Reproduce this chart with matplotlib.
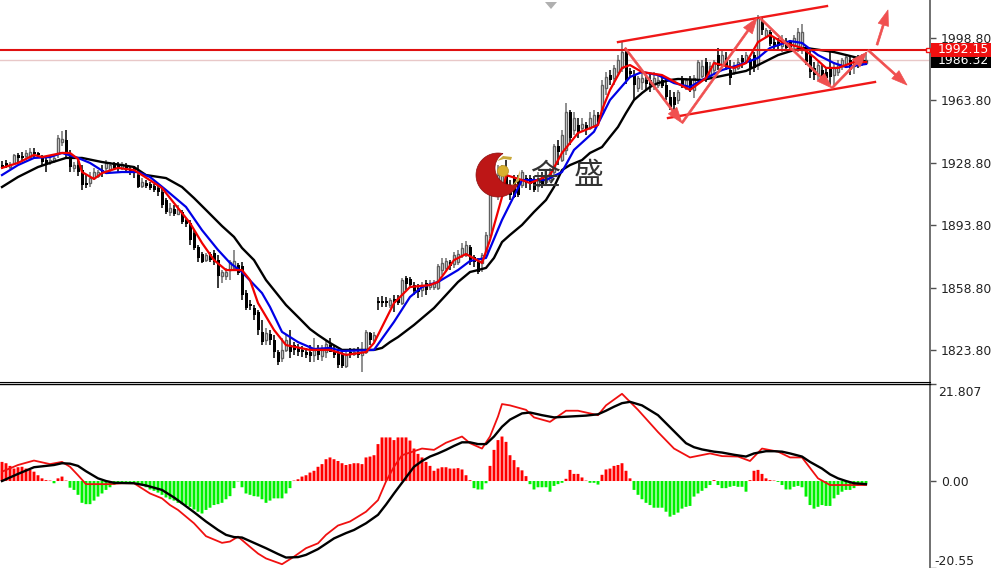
import numpy as np
import matplotlib
matplotlib.use("Agg")
import matplotlib.pyplot as plt
from matplotlib.patches import Circle, FancyArrowPatch, Polygon, Rectangle

# candles, one value per bar
opens = [1927.5,1928.7,1926.4,1928.7,1933.2,1932.6,1932.6,1932,1934.8,1934.3,
 1932,1930.3,1929.2,1929.8,1934.3,1940.4,1941.6,1933.2,1925.9,1927.5,
 1924.7,1917.4,1917.4,1920.2,1921.4,1924.7,1925.9,1924.7,1927.5,1927.5,
 1925.9,1927,1924.7,1925.9,1921.9,1915.8,1917.4,1916.9,1915.8,1914.6,
 1912.4,1907.9,1901.2,1902.8,1900,1901.2,1896.7,1895,1889.4,1881.5,
 1877.6,1874.2,1877.6,1878.2,1874.2,1865.3,1865.3,1868.6,1869.8,1871.4,
 1870.9,1855.7,1849.6,1847.3,1845.1,1833.9,1829.4,1832.7,1829.4,1822.6,
 1819.3,1823.8,1826.5,1826.5,1824.9,1823.8,1822.6,1822.6,1821,1823.8,
 1820.4,1822.6,1826.5,1822.6,1822,1821.5,1814.8,1822.6,1821.5,1822.6,
 1821,1822.6,1833.3,1829.4,1851.2,1851.2,1851.2,1849,1852.4,1852.9,
 1850.1,1864.1,1863.6,1860.2,1858.5,1857.4,1861.3,1859.1,1859.1,1858.5,
 1868.6,1869.8,1873.1,1872,1873.1,1877,1877,1881.5,1875.9,1873.1,
 1872.6,1877,1888.3,1913.5,1914.6,1913.5,1921.9,1916.3,1920.2,1919.1,
 1916.3,1920.2,1920.2,1919.1,1915.8,1920.2,1918,1919.1,1923.6,1938.2,
 1930.3,1936,1957.3,1947.2,1950,1948.3,1950,1948.3,1950,1955.6,
 1956.7,1970.7,1978,1976.3,1979.7,1982,1990.9,1980.3,1978,1970.7,
 1974.1,1975.2,1975.2,1973,1972.4,1975.2,1972.4,1965.7,1965.7,1964,
 1976.3,1970.7,1975.2,1969.6,1975.2,1977.5,1985.3,1977.5,1980.8,1989.2,
 1983.6,1987.6,1980.8,1979.7,1982,1987.6,1985.3,1986.4,1989.2,1983.6,
 2007.8,2000,2002.1,1996.5,1996.5,1994.3,1996.5,1996.5,1994.3,1993.2,
 1992,1993.2,1989.2,1982,1978,1980.8,1979.7,1982,1978,1979.7,
 1983,1984.2,1986.4,1983,1986.4,1984.8,1984.8]
closes = [1926.4,1927,1928.1,1933.2,1931.5,1931.5,1934.3,1934.8,1933.7,1933.2,
 1929.2,1928.1,1930.3,1931.5,1942.7,1942.1,1934.8,1926.4,1927.5,1923.6,
 1916.3,1916.3,1920.2,1923.6,1923.6,1923.6,1928.7,1927.5,1925.9,1925.3,
 1928.1,1925.9,1923.6,1923,1915.2,1918,1915.8,1914.6,1913.5,1912.4,
 1905,1901.2,1903.4,1900,1902.8,1895.6,1894.4,1885.5,1881,1875.4,
 1873.1,1877,1874.2,1873.1,1865.3,1867.5,1867.5,1873.1,1873.7,1867,
 1854.6,1847.3,1848.4,1843.4,1835,1828.2,1833.3,1829.4,1822.6,1817,
 1823.8,1829.4,1822.6,1823.8,1822.6,1822.6,1821,1820.4,1823.8,1821,
 1823.8,1827.1,1822.6,1821,1815.3,1814.8,1821,1821,1822.6,1821,
 1822.6,1833.9,1829.4,1832.2,1850.1,1850.1,1850.1,1851.8,1850.1,1850.1,
 1863,1860.8,1860.2,1856.9,1856.3,1859.1,1857.4,1861.3,1861.3,1870.9,
 1872.6,1873.7,1870.9,1877,1877.6,1881,1882.7,1873.1,1873.1,1867.5,
 1877,1888.3,1913.5,1918,1921.9,1921.9,1916.3,1910.7,1909.6,1910.7,
 1923.6,1917.4,1916.9,1913.5,1919.1,1916.9,1921.4,1923.6,1938.2,1934.8,
 1944.4,1957.3,1942.7,1953.9,1945.5,1950.5,1947.2,1953.9,1955.6,1951.7,
 1972.4,1976.9,1975.2,1982,1986.4,1990.9,1975.2,1978.6,1972.4,1976.3,
 1976.3,1973,1972.4,1976.3,1975.2,1971.9,1965.7,1960.1,1961.2,1968.5,
 1972.4,1975.2,1970.7,1976.3,1985.3,1983,1976.3,1983,1985.3,1983,
 1989.2,1983,1976.3,1983,1985.3,1985.3,1989.2,1982,1982,2010,
 2003.3,2003.3,1995.4,1994.3,1994.3,1997.7,1993.2,1993.2,1998.8,2002.1,
 2002.1,1985.3,1979.7,1978,1983.6,1977.5,1976.3,1976.9,1982,1983.6,
 1986.4,1988.1,1980.8,1986.4,1984.2,1987.6,1986.4]
highs = [1929.8,1930.3,1929.2,1933.7,1934.3,1934.8,1936,1937.1,1937.1,1934.8,
 1933.2,1932,1932,1933.7,1944.4,1946.6,1947.2,1936,1929.2,1931.5,
 1927.5,1921.9,1923.6,1925.9,1924.7,1927.5,1930.3,1929.2,1929.2,1929.2,
 1929.2,1928.7,1926.4,1927,1927.5,1920.2,1919.1,1918,1916.9,1915.8,
 1914.6,1909,1906.2,1905,1905,1902.3,1897.8,1896.7,1891,1882.7,
 1878.7,1878.2,1878.7,1879.9,1877,1868.6,1869.8,1874.2,1879.9,1872.6,
 1873.1,1857.4,1851.8,1849,1846.2,1840.6,1836.1,1835,1832.2,1823.8,
 1830.5,1832.2,1835,1828.2,1827.1,1826,1824.9,1826.5,1830.5,1826.5,
 1826.5,1829.4,1830.5,1826.5,1823.8,1822.6,1823.8,1824.9,1824.9,1825.5,
 1828.2,1835,1833.9,1833.9,1853.5,1854,1853.5,1852.9,1854.6,1854.6,
 1864.1,1865.3,1864.7,1861.9,1860.8,1861.9,1863,1863,1863,1872,
 1875.4,1875.4,1874.2,1878.7,1879.9,1883.8,1885,1882.7,1877,1875.4,
 1878.2,1890,1916.3,1921.9,1927.5,1927.5,1930.3,1919.1,1921.9,1921.9,
 1924.7,1921.9,1921.9,1921.4,1923.6,1923.6,1924.7,1925.9,1939.3,1941.6,
 1947.2,1962.3,1958.4,1957.3,1953.9,1953.9,1951.7,1957.3,1958.4,1957.3,
 1975.2,1979.7,1980.8,1983.6,1989.2,1996.5,1993.2,1982,1980.8,1977.5,
 1979.7,1977.5,1978.6,1979.7,1978,1977.5,1976.3,1969.6,1968.5,1969.6,
 1977.5,1976.3,1977.5,1978,1986.4,1986.4,1987.6,1985.3,1986.4,1993.2,
 1992,1990.9,1986.4,1985.3,1987.6,1989.2,1990.9,1987.6,1990.9,2011.7,
 2010,2004.4,2003.3,1998.8,1998.8,2000.5,1998.8,1997.7,2000.5,2004.4,
 2006.6,1994.3,1992,1985.3,1985.3,1983.6,1982,1992,1985.3,1986.4,
 1987.6,1989.8,1988.7,1988.7,1989.2,1989.8,1990.9]
lows = [1925.3,1925.9,1925.3,1927.5,1929.2,1930.3,1930.3,1930.3,1931.5,1931.5,
 1927.5,1923.6,1927.5,1928.7,1931.5,1938.2,1931.5,1923.6,1923.6,1921.4,
 1913.5,1914.6,1915.2,1919.1,1920.2,1920.8,1923.6,1923.6,1924.7,1923.6,
 1924.7,1923.6,1921.9,1920.2,1914.6,1914.6,1914.6,1913.5,1912.4,1910.1,
 1903.4,1900,1898.9,1898.9,1899.5,1894.4,1892.8,1882.7,1879.9,1873.1,
 1872.6,1873.1,1873.1,1871.4,1858.5,1861.3,1863,1863,1868.6,1865.8,
 1851.8,1846.2,1846.2,1840.6,1832.2,1826.5,1826.5,1826.5,1819.3,1815.3,
 1817,1822.6,1819.3,1821,1820.4,1819.9,1819.3,1817,1817,1818.1,
 1817.6,1819.3,1822.6,1819.3,1813.6,1813.6,1813.6,1819.3,1820.4,1819.3,
 1811.4,1821.5,1826.5,1828.2,1846.2,1847.9,1847.9,1847.3,1845.1,1849,
 1849,1857.4,1858.5,1854.6,1852.9,1853.5,1854.6,1857.4,1857.4,1857.4,
 1865.8,1867.5,1868.6,1869.8,1871.4,1875.4,1875.9,1871.4,1870.3,1866.4,
 1867.5,1875.4,1886.6,1910.7,1907.9,1910.7,1913.5,1907.9,1909,1909.6,
 1914.6,1914.6,1913.5,1912.4,1912.4,1914.6,1916.3,1918,1921.9,1927.5,
 1929.2,1933.2,1938.8,1944.4,1942.7,1946.2,1944.4,1947.2,1948.3,1950,
 1955,1966.8,1972.4,1972.4,1978,1979.7,1973,1976.3,1964,1968.5,
 1969.6,1969.6,1968.5,1969.6,1970.7,1970.7,1964,1958.4,1953.9,1961.8,
 1970.7,1969.6,1968.5,1965.1,1974.1,1976.3,1974.1,1976.3,1978.6,1980.8,
 1982,1980.8,1972.4,1978,1980.8,1982,1984.2,1978,1979.7,1980.8,
 2000.5,1998.8,1994.3,1992,1992,1990.9,1992,1990.9,1992,1990.9,
 1989.8,1983.6,1976.3,1975.2,1975.2,1974.1,1974.1,1972.4,1972.4,1977.5,
 1980.8,1982,1978,1978.6,1982,1983,1983.6]

# moving averages
fast_x = [0,4,8,10,15,17,19,20,23,25,29,33,35,40,44,47,50,53,56,60,62,64,68,71,77,82,86,91,93,98,102,107,109,
 113,116,120,122,125,126,130,132,137,140,144,149,150,152,155,157,160,165,172,176,178,183,186,189,192,195,200,203,206,209,213,216]
fast_y = [1925.9,1928.7,1933.2,1932,1934.3,1934.3,1930.9,1923.6,1919.7,1923,1925.9,1924.7,1921.9,1914.6,1903.4,1895,
 1883.8,1874.2,1868.6,1868.6,1863,1850.1,1835,1826.5,1823.8,1823.8,1821,1822.6,1827.7,1850.1,1859.1,1860.2,1861.9,
 1874.2,1877.6,1872.6,1885.5,1909.6,1921.9,1919.1,1917.4,1921.9,1934.3,1945.5,1950,1958.4,1969.6,1982,1983.6,1979.7,
 1978,1969.6,1976.3,1984.7,1982,1984.7,1996.5,2000.5,1996.5,1993.2,1988.1,1982,1982,1985.3,1985.3]
mid_x = [0,4,8,12,15,19,22,26,30,34,37,41,46,50,54,57,60,65,67,70,74,78,82,85,93,98,102,105,109,114,117,121,125,
 130,136,140,143,148,152,157,160,164,168,172,175,180,185,189,192,197,200,204,208,211,216]
mid_y = [1921.9,1927.5,1931.5,1932,1934.3,1931.5,1928.7,1923,1923.6,1923.6,1920.8,1913.5,1904,1891,1879.9,1872.6,
 1867.5,1855.7,1847.9,1833.9,1828.2,1824.3,1824.9,1823.2,1823.8,1839.5,1853.5,1859.1,1861.9,1868.6,1873.7,1875.4,
 1896.7,1919.1,1919.1,1923.6,1936,1946.2,1964,1976.9,1979.7,1978,1973.5,1971.3,1975.2,1980.8,1984.2,1987.6,1993.2,
 1997.1,1996,1989.2,1984.7,1982.5,1984.2]
slow_x = [0,4,9,12,16,20,25,33,36,41,45,48,51,55,58,60,63,66,68,71,74,77,79,82,85,93,95,97,99,103,108,111,114,117,119,
 121,123,125,127,130,133,136,138,140,142,145,147,150,152,154,156,158,160,162,164,167,169,175,181,186,190,194,198,201,208,214,216]
slow_y = [1915.2,1920.8,1926.4,1928.7,1931.5,1931.5,1929.2,1926.4,1921.9,1920.2,1915.2,1909,1902.3,1893.3,1887.2,1881,
 1874.2,1863,1857.4,1849,1842.3,1835.5,1832.2,1827.7,1823.8,1823.8,1824.9,1828.2,1831,1837.8,1847.3,1854.6,1861.9,
 1867.5,1868.6,1869.8,1875.4,1884.3,1888.3,1893.9,1901.2,1907.9,1915.2,1924.7,1927.5,1930.3,1934.3,1937.6,1943.3,
 1948.9,1956.7,1964,1967.9,1971.3,1973.5,1975.2,1975.8,1975.2,1978,1980.3,1984.7,1989.2,1992,1993.2,1990.9,1987.6,1985.3]

price_ticks = [1998.80, 1963.80, 1928.80, 1893.80, 1858.80, 1823.80]
bid = 1992.15
ask = 1986.32

# channel and swing lines drawn on the chart (bar, price)
upper_channel = ([154, 206.25], [1996.5, 2016.7])
lower_channel = ([166.5, 218.25], [1953.9, 1974.1])
swings = [((155.75, 1993.2), (170, 1951.1)),
          ((170, 1951.1), (188.75, 2010)),
          ((189.5, 2010), (207.5, 1970.7)),
          ((207.5, 1970.7), (216.25, 1990.9)),
          ((218.75, 1994.9), (221.5, 2014.5)),
          ((216.5, 1992), (226.25, 1972.4))]

# macd pane
hist = [4.3,4.0,3.4,2.8,3.1,3.2,2.8,2.5,2.1,1.3,
 0.6,0.2,0.1,-0.5,0.6,1.0,0.1,-1.5,-2,-3.1,
 -4.9,-5.2,-5.2,-4.4,-3.5,-2.8,-2,-1.4,-0.9,-0.5,
 -0.4,-0.2,-0.2,-0.3,-0.5,-0.9,-1.4,-1.9,-2.2,-2.6,
 -3.1,-3.7,-4.1,-4.4,-4.9,-5.2,-5.4,-5.8,-6.4,-6.9,
 -7.3,-6.5,-6,-5.4,-5.2,-4.9,-4.1,-3.4,-1.6,-0.1,
 -1.4,-2.8,-3.1,-3.4,-3.5,-4.1,-4.9,-4.4,-3.9,-3.9,
 -3.9,-2.8,-1.6,0.1,0.4,1,1.3,1.9,2.3,3.2,
 3.8,4.9,5.3,4.9,4.5,4,3.6,3.8,4,4,
 3.8,5.3,5.5,5.8,8.3,9.8,9.8,9.8,9.2,9.8,
 9.8,9.8,9.1,7.3,6.1,5.3,4.3,3.4,2.3,2.8,
 3.1,3.1,2.8,2.8,2.9,2.6,1.3,0.2,-1.6,-1.9,
 -1.9,-0.5,3.4,7,9.2,10,8.8,5.8,4.7,3.1,
 2.4,1.1,-0.7,-1.9,-1.4,-1.4,-1.4,-2.4,-1.1,-0.7,
 -0.4,0.5,2.5,1.6,1.6,0.8,0.1,-0.4,-0.4,-0.8,
 1.4,2.6,2.8,3.4,3.6,4,2.3,0.6,-2,-3.1,
 -4.1,-4.9,-5.4,-6,-6,-6,-6.9,-8,-7.6,-7.1,
 -6.2,-5.8,-5.6,-3.5,-2.8,-2.2,-1.6,-0.9,0.2,-0.9,
 -1.6,-1.6,-1.3,-1.1,-1.3,-1.3,-2.4,0.2,2.3,2.5,
 1.6,0.6,0.2,0.1,-0.2,-0.9,-1.9,-1.9,-1.3,-1.1,
 -1.4,-3.5,-5.4,-6.2,-5.8,-5.4,-5.6,-5.6,-3.9,-3.1,
 -2.4,-2,-2,-1.6,-1.1,-0.7,-0.5]
macd_x = [0,4,8,12,15,17,19,21,27,30,33,37,40,42,44,46,48,51,55,57,59,62,64,66,70,73,76,79,81,84,87,91,94,96,98,100,105,108,111,115,
 117,120,122,124,125,127,131,133,137,141,144,149,151,155,159,164,168,172,177,180,184,187,190,194,197,200,204,207,216]
macd_y = [2.1,3.6,4.6,3.8,4.3,3.2,1.3,-0.7,-0.7,-0.5,-0.5,-2.8,-3.9,-5.4,-6.5,-8,-9.5,-12.4,-13.9,-13.6,-12.5,-14.8,-16.3,-17.4,-18.7,
 -17,-15.1,-14,-12.1,-10,-9.1,-6.9,-4.3,-0.1,3.2,5.8,7.3,7,8.6,10,8.5,7.3,10,14.5,17.3,17,16,14.3,13.3,15.8,15.8,14.8,17,19.6,16,11,
 7.3,5.3,6.2,5.6,5.5,4.5,7.3,6.6,5.3,5.3,0.6,-0.9,-0.9]
signal_x = [0,4,8,13,15,17,19,21,24,26,28,33,36,40,43,45,48,51,54,56,58,60,63,66,69,71,74,76,79,83,86,88,91,94,96,98,101,103,105,107,109,111,113,115,
 117,119,121,123,125,127,130,132,135,138,142,146,149,151,153,155,157,160,164,168,171,173,175,178,180,183,186,188,191,193,195,197,200,202,205,207,209,211,213,216]
signal_y = [0,1.6,3.1,3.6,4,3.9,3.4,2.2,0.6,0,-0.4,-0.5,-1,-2,-3.7,-5,-7,-9.1,-11,-12.1,-12.6,-12.7,-13.9,-15.1,-16.4,-17.2,-17.1,-16.6,-15.3,
 -12.9,-11.7,-11,-9.5,-7.6,-5.3,-2.8,0.8,3.2,4.5,5.5,6.2,7,7.9,8.7,8.7,8.3,8.3,10,12.2,13.8,15.2,15.4,14.8,14.3,14.5,14.7,15,15.8,16.7,17.5,17.8,17,
 14.8,11.2,8.5,7.6,7.1,6.6,6.4,5.9,5.5,6.2,6.7,6.7,6.6,6.2,5.5,4.3,2.8,1.5,0.6,0,-0.5,-0.7]

W, H = 991, 568
fig = plt.figure(figsize=(W / 100, H / 100), dpi=100, facecolor="white")
ax = fig.add_axes([0, 1 - 382 / H, 930 / W, 382 / H])
ax2 = fig.add_axes([0, 0, 930 / W, (H - 384) / H])

idx = np.arange(len(opens))
opens = np.array(opens)
closes = np.array(closes)
highs = np.array(highs)
lows = np.array(lows)
up = closes >= opens

ax.vlines(idx[up], lows[up], highs[up], color="#707070", lw=1.1, zorder=2)
ax.vlines(idx[~up], lows[~up], highs[~up], color="black", lw=1.1, zorder=2)
ax.bar(idx[up], (closes - opens)[up], bottom=opens[up], width=0.62, facecolor="white",
       edgecolor="#606060", lw=1, zorder=3)
ax.bar(idx[~up], (closes - opens)[~up], bottom=opens[~up], width=0.75, color="black", lw=0, zorder=3)

ax.plot(slow_x, slow_y, color="black", lw=1.7, zorder=4)
ax.plot(mid_x, mid_y, color="#0000e6", lw=1.6, zorder=5)
ax.plot(fast_x, fast_y, color="#f00000", lw=1.6, zorder=6)

ax.axhline(ask, color="#e8c8c8", lw=1, zorder=1)
ax.axhline(bid, color="#e01010", lw=1.5, zorder=7)

ax.plot(*upper_channel, color="#f01818", lw=1.7, zorder=8)
ax.plot(*lower_channel, color="#f01818", lw=1.7, zorder=8)
for a, b in swings:
    ax.add_patch(FancyArrowPatch(a, b, arrowstyle="simple,head_length=0.8,head_width=0.55,tail_width=0.1",
                                 mutation_scale=14, color="#f05050", lw=0.5, shrinkA=0, shrinkB=0, zorder=9))

ax.set_xlim(-0.5, 232)
ax.set_ylim(1805.8, 2020.1)
ax.set_xticks([])
ax.yaxis.tick_right()
ax.set_yticks(price_ticks)
ax.set_yticklabels(["%.2f" % p for p in price_ticks])

tr = ax.get_yaxis_transform()
ax.add_patch(Rectangle((1.001, ask - 4.2), 0.066, 8.4, transform=tr, clip_on=False, fc="black", ec="none", zorder=10))
ax.text(1.0085, ask, "%.2f" % ask, transform=tr, color="white", fontsize=8.9, va="center", zorder=10.5, clip_on=False)
ax.add_patch(Rectangle((1.001, bid - 3.9), 0.066, 7.6, transform=tr, clip_on=False, fc="#f01010", ec="none", zorder=11))
ax.text(1.0085, bid, "%.2f" % bid, transform=tr, color="white", fontsize=8.9, va="center", zorder=12, clip_on=False)
ax.add_patch(Rectangle((0.9955, bid - 1.3), 0.005, 2.6, transform=tr, clip_on=False, fc="white", ec="#f01010",
                       lw=1, zorder=12))

colors = ["#ff0000" if v >= 0 else "#00f000" for v in hist]
ax2.bar(idx, hist, width=0.72, color=colors, lw=0, zorder=2, snap=False)
ax2.plot(macd_x, macd_y, color="#f01010", lw=1.3, zorder=3)
ax2.plot(signal_x, signal_y, color="black", lw=1.7, zorder=4)
ax2.set_xlim(-0.5, 232)
ax2.set_ylim(-19.55, 21.807)
ax2.set_xticks([])
ax2.yaxis.tick_right()
ax2.set_yticks([21.807, 0, -19.55])
ax2.set_yticklabels(["", "0.00", ""])
tr2 = ax2.get_yaxis_transform()
ax2.text(1.0085, 19.8, "21.807", transform=tr2, fontsize=8.9, color="#222222", va="center", clip_on=False)
ax2.text(1.0045, -18.2, "-20.55", transform=tr2, fontsize=8.9, color="#222222", va="center", clip_on=False)

for a in (ax, ax2):
    for s in ("left", "bottom"):
        a.spines[s].set_visible(False)
    a.spines["right"].set_color("#707070")
    a.spines["right"].set_linewidth(1.4)
    a.tick_params(axis="y", length=4, width=1, color="#505050", labelsize=8.9, labelcolor="#222222", pad=4)
ax.spines["top"].set_visible(False)
ax.spines["bottom"].set_visible(True)
ax.spines["bottom"].set_color("black")
ax2.spines["top"].set_color("black")
ax2.spines["top"].set_linewidth(1.0)

# logo, text and the little scroll marker in pixel space
over = fig.add_axes([0, 0, 1, 1], zorder=20)
over.set_xlim(0, W)
over.set_ylim(H, 0)
over.axis("off")
over.patch.set_alpha(0)

cx, cy, R = 498, 175, 22
ix, iy, r = 512, 168, 17
d = np.hypot(ix - cx, iy - cy)
phi = np.arctan2(iy - cy, ix - cx)
alpha = np.arccos((d**2 + R**2 - r**2) / (2 * d * R))
beta = np.arccos((d**2 + r**2 - R**2) / (2 * d * r))
t1 = np.linspace(phi + alpha, phi + 2 * np.pi - alpha, 60)
t2 = np.linspace(phi + np.pi + beta, phi + np.pi - beta, 40)
crescent = np.r_[np.c_[cx + R * np.cos(t1), cy + R * np.sin(t1)], np.c_[ix + r * np.cos(t2), iy + r * np.sin(t2)]]
over.add_patch(Polygon(crescent, closed=True, fc="#bd1616", ec="#8c1010", lw=0.5))
over.add_patch(Circle((503, 171), 5.5, fc="#d8b030", ec="#b89020", lw=0.5))
over.add_patch(Polygon([(497, 161), (503, 156), (512, 157), (511, 160), (504, 159)], closed=True, fc="#c9a83a", ec="none"))
over.add_patch(Polygon([(512, 186), (517, 179), (520, 170), (519, 181)], closed=True, fc="#c9a83a", ec="none"))
over.text(545, 176, "金", fontsize=21.5, family=["Noto Sans CJK SC", "DejaVu Sans"], color="#333333", ha="center", va="center")
over.text(589, 176, "盛", fontsize=21.5, family=["Noto Sans CJK SC", "DejaVu Sans"], color="#333333", ha="center", va="center")
over.add_patch(Polygon([(545, 2), (557, 2), (551, 9)], closed=True, fc="#b0b0b0", ec="none"))

fig.savefig("out.png", dpi=100)
